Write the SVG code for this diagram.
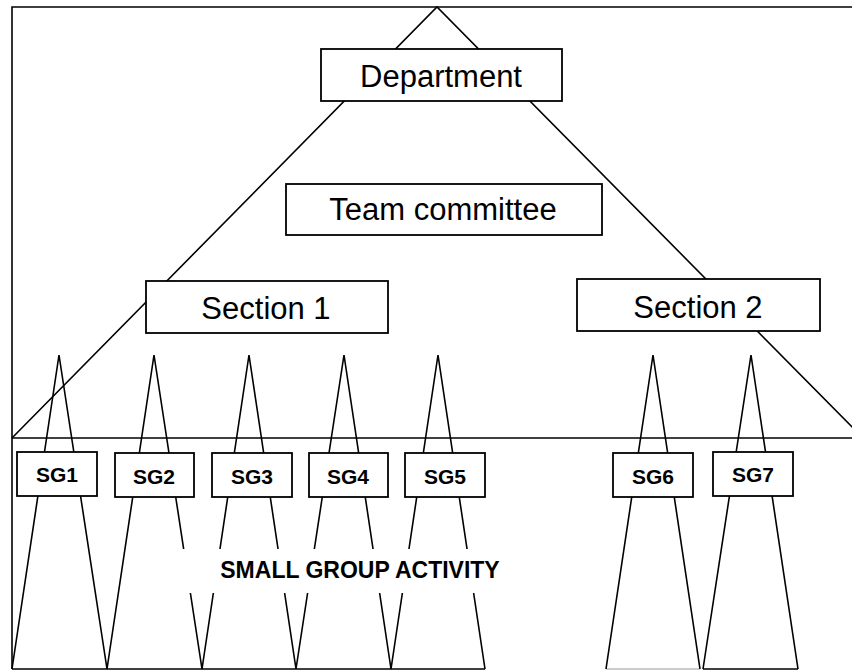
<svg xmlns="http://www.w3.org/2000/svg" width="852" height="671" viewBox="0 0 852 671">
<style>
.ln{fill:none;stroke:#000;stroke-width:1.6}
.box{fill:#fff;stroke:#000;stroke-width:1.8}
.big{font-family:"Liberation Sans",Arial,sans-serif;font-size:31px;fill:#000;text-anchor:middle}
.sg{font-family:"Liberation Sans",Arial,sans-serif;font-size:21px;font-weight:bold;fill:#000;text-anchor:middle}
.lbl{font-family:"Liberation Sans",Arial,sans-serif;font-size:23px;font-weight:bold;fill:#000;text-anchor:middle}
</style>
<rect width="852" height="671" fill="#fff"/>
<g id="connectors">
<path class="ln" d="M12,669 V7 H852"/>
<path class="ln" d="M12,438 H852"/>
<path class="ln" d="M12,669 H485"/>
<path class="ln" d="M703,669 H798"/>
<path d="M606,669 H700" fill="none" stroke="#bbb" stroke-width="1.6"/>
<path class="ln" d="M12,438 L437,7 L866,441"/>
<path class="ln" d="M12,669 L59,355 L107,669"/>
<path class="ln" d="M107,669 L154,355 L202,669"/>
<path class="ln" d="M202,669 L249,355 L296,669"/>
<path class="ln" d="M296,669 L344,355 L391,669"/>
<path class="ln" d="M391,669 L438,355 L485,669"/>
<path class="ln" d="M606,669 L653,355 L700,669"/>
<path class="ln" d="M703,669 L751,355 L798,669"/>
</g>
<g id="department"><rect class="box" x="321" y="49" width="241" height="52"/><text class="big" x="441" y="87">Department</text></g>
<g id="team-committee"><rect class="box" x="286" y="184" width="316" height="51"/><text class="big" x="443" y="220">Team committee</text></g>
<g id="section-1"><rect class="box" x="146" y="281" width="242" height="52"/><text class="big" x="266" y="319">Section 1</text></g>
<g id="section-2"><rect class="box" x="577" y="279" width="243" height="52"/><text class="big" x="698" y="318">Section 2</text></g>
<g id="sg1"><rect class="box" x="17" y="452" width="80" height="44"/><text class="sg" x="57" y="482">SG1</text></g>
<g id="sg2"><rect class="box" x="115" y="453" width="79" height="44"/><text class="sg" x="154" y="484">SG2</text></g>
<g id="sg3"><rect class="box" x="212" y="453" width="80" height="44"/><text class="sg" x="252" y="484">SG3</text></g>
<g id="sg4"><rect class="box" x="309" y="453" width="79" height="44"/><text class="sg" x="348" y="484">SG4</text></g>
<g id="sg5"><rect class="box" x="405" y="453" width="80" height="44"/><text class="sg" x="445" y="484">SG5</text></g>
<g id="sg6"><rect class="box" x="613" y="453" width="80" height="44"/><text class="sg" x="653" y="484">SG6</text></g>
<g id="sg7"><rect class="box" x="713" y="452" width="80" height="44"/><text class="sg" x="753" y="482">SG7</text></g>
<g id="small-group-activity"><rect x="180" y="549" width="362" height="44" fill="#fff"/><text class="lbl" x="360" y="578">SMALL GROUP ACTIVITY</text></g>
</svg>
